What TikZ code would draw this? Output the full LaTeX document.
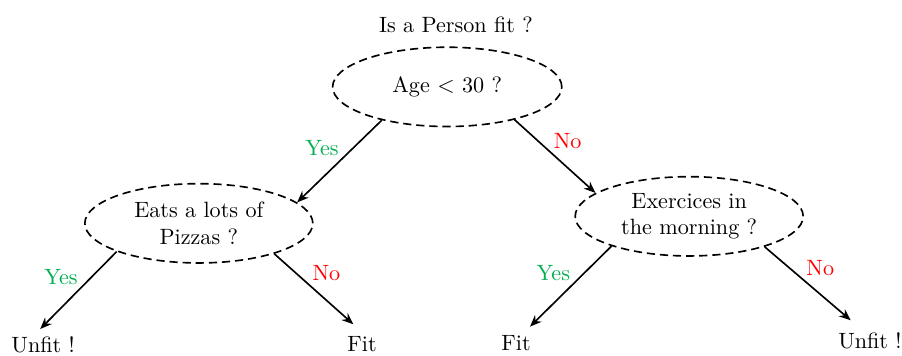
\documentclass[tikz,border=0pt]{standalone}
\usepackage{xcolor}
\usepackage{tikz}
\usetikzlibrary{positioning,arrows.meta,shapes.geometric}
\definecolor{figGreen}{HTML}{00B050}
\definecolor{figRed}{HTML}{FF0000}

\begin{document}
\begin{tikzpicture}[
  every node/.style={font=\fontsize{10.8}{13}\selectfont},
  question/.style={draw, dash pattern=on 4pt off 2.4pt, thick, ellipse, align=center,
                   minimum width=3.91cm, minimum height=1.36cm, inner sep=1pt},
  leaf/.style={inner sep=0pt},
  branch/.style={-{Stealth[length=2mm,width=1.6mm]}, thick},
  yeslab/.style={midway, above left, inner sep=0pt, yshift=2.3pt, text=figGreen},
  nolab/.style={midway, above right, inner sep=0pt, xshift=-1pt, yshift=3.5pt, text=figRed},
]
\useasboundingbox (0,0) rectangle (15.47,6.09);

% Questions
\node (title) at (7.82, 5.66) {Is a Person fit ?};
\node[question, minimum width=3.93cm] (age) at (7.67, 4.60) {Age $<$ 30 ?};
\node[question] (pizza) at (3.41, 2.26) {Eats a lots of\\Pizzas ?};
\node[question] (sport) at (11.82, 2.38) {Exercices in\\the morning ?};

% Leaves
\node[leaf] (unfitA) at (0.74, 0.18) {Unfit !};
\node[leaf] (fitA) at (6.21, 0.18) {Fit};
\node[leaf] (fitB) at (8.85, 0.21) {Fit};
\node[leaf] (unfitB) at (14.92, 0.24) {Unfit !};

% Branches
\draw[branch] (age.207) -- (pizza.12) node[yeslab] {Yes};
\draw[branch] (age.-26) -- (sport.166) node[nolab] {No};
\draw[branch] (pizza.199) -- ([shift={(-0.05,0.12)}]unfitA.north) node[yeslab] {Yes};
\draw[branch] (pizza.-22) -- ([shift={(-0.15,0.21)}]fitA.north) node[nolab] {No};
\draw[branch] (sport.201) -- ([shift={(0.24,0.14)}]fitB.north) node[yeslab] {Yes};
\draw[branch] (sport.-22) -- ([shift={(-0.33,0.21)}]unfitB.north) node[nolab] {No};

\end{tikzpicture}
\end{document}
